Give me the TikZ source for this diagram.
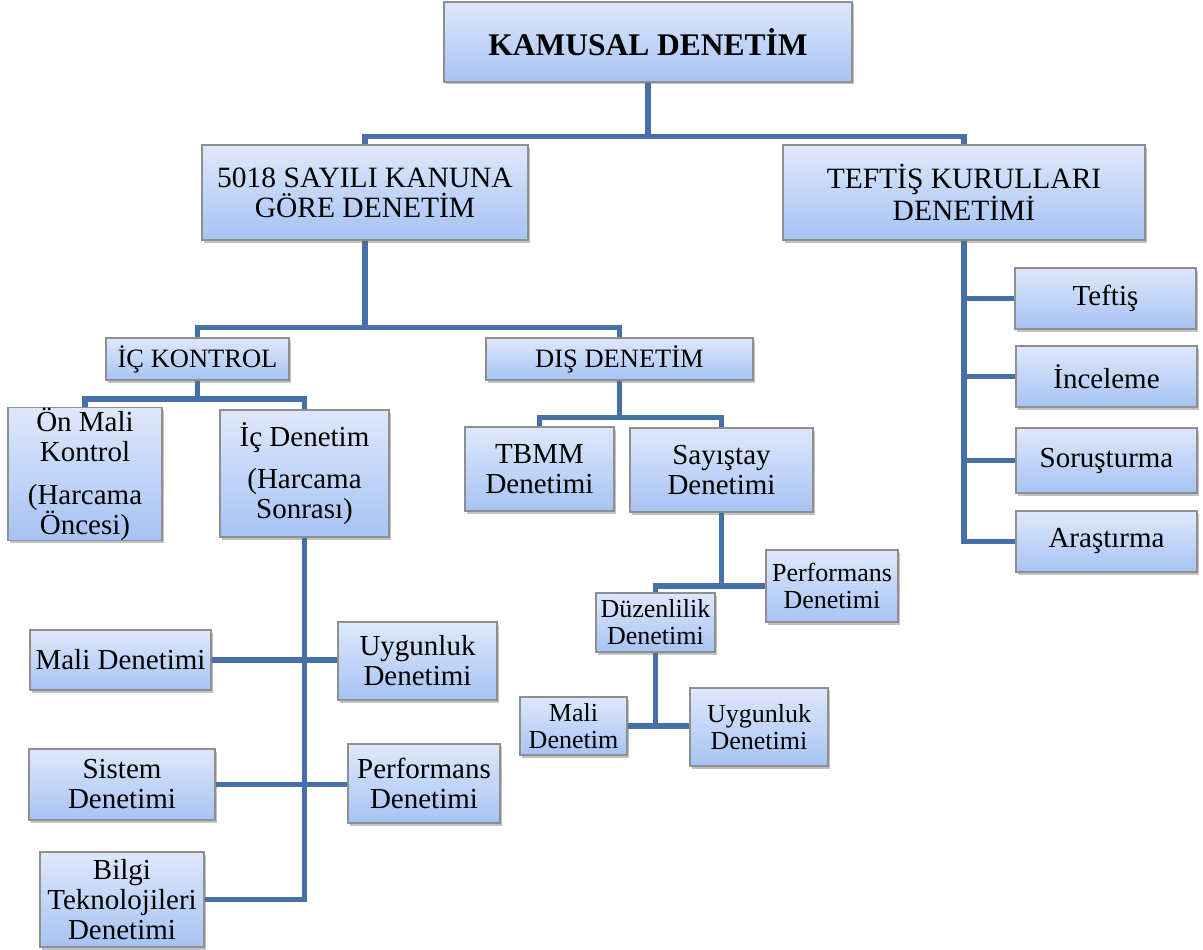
\documentclass[tikz,border=0pt]{standalone}
\usepackage{fontspec}
\setmainfont{Liberation Serif}
\usetikzlibrary{shadows,backgrounds}
\definecolor{boxtop}{HTML}{DEE8FB}
\definecolor{boxbot}{HTML}{A6C3F4}
\definecolor{boxline}{HTML}{8F8F8F}
\definecolor{connc}{HTML}{4671A8}
\newcommand{\fsz}[1]{\fontsize{#1}{#1}\selectfont}
\tikzset{
  box/.style={draw=boxline, line width=1.4pt, top color=boxtop, bottom color=boxbot,
    rectangle, inner sep=0pt, align=center,
    drop shadow={shadow xshift=1.5pt, shadow yshift=-2.5pt, opacity=0.4, fill=black!60}},
  conn/.style={draw=connc, line width=5.5pt},
  ftop/.style={font=\fsz{31.5}\bfseries},
  fmid/.style={font=\fontsize{29.5}{30}\selectfont},
  fsm/.style={font=\fontsize{26.5}{28}\selectfont},
  flf/.style={font=\fontsize{29}{30}\selectfont},
  fsub/.style={font=\fontsize{26}{27}\selectfont},
}
\begin{document}
\begin{tikzpicture}[x=1pt,y=-1pt]
\useasboundingbox (0,0) rectangle (1203,950);
% nodes
\node[box,ftop,minimum width=408,minimum height=80] (kam) at (648,42) {KAMUSAL DENETİM};
\node[box,fmid,minimum width=326,minimum height=95] (k5018) at (365,192.5) {5018 SAYILI KANUNA\\GÖRE DENETİM};
\node[box,fmid,minimum width=362,minimum height=95] (tk) at (964,192.5) {TEFTİŞ KURULLARI\\DENETİMİ};
\node[box,fsm,minimum width=183,minimum height=42] (ick) at (197.5,359) {İÇ KONTROL};
\node[box,fsm,minimum width=267,minimum height=42] (dis) at (619.5,359) {DIŞ DENETİM};
\node[box,flf,minimum width=154,minimum height=128] (onm) at (85,474) {Ön Mali\\Kontrol\\[13pt](Harcama\\Öncesi)};
\node[box,flf,minimum width=169,minimum height=127] (icd) at (304.5,473.5) {İç Denetim\\[12pt](Harcama\\Sonrası)};
\node[box,flf,minimum width=149,minimum height=84] (tbmm) at (539.5,469) {TBMM\\Denetimi};
\node[box,flf,minimum width=183,minimum height=84] (say) at (721.5,470) {Sayıştay\\Denetimi};
\node[box,fsub,minimum width=132,minimum height=72] (perf2) at (832,586) {Performans\\Denetimi};
\node[box,fsub,minimum width=119,minimum height=59] (duz) at (655.5,622.5) {Düzenlilik\\Denetimi};
\node[box,fsub,minimum width=107,minimum height=58] (mden) at (573.5,726) {Mali\\Denetim};
\node[box,fsub,minimum width=138,minimum height=78] (uyg2) at (759,727) {Uygunluk\\Denetimi};
\node[box,flf,minimum width=181,minimum height=60] (mali) at (120.5,660) {Mali Denetimi};
\node[box,flf,minimum width=159,minimum height=78] (uyg) at (417.5,661) {Uygunluk\\Denetimi};
\node[box,flf,minimum width=186,minimum height=71] (sis) at (122,784.5) {Sistem\\Denetimi};
\node[box,flf,minimum width=152,minimum height=79] (perf) at (424,783.5) {Performans\\Denetimi};
\node[box,flf,minimum width=164,minimum height=95] (bilgi) at (122,899.5) {Bilgi\\Teknolojileri\\Denetimi};
\node[box,flf,minimum width=181,minimum height=61] (teft) at (1105.5,298.5) {Teftiş};
\node[box,flf,minimum width=181,minimum height=61] (inc) at (1106.5,376.5) {İnceleme};
\node[box,flf,minimum width=181,minimum height=65] (sor) at (1106.5,460.5) {Soruşturma};
\node[box,flf,minimum width=181,minimum height=61] (aras) at (1106.5,541.5) {Araştırma};
% connectors
\begin{scope}[on background layer]
\draw[conn] (kam.south) -- (kam.south |- 0,137);
\draw[conn] (k5018.north) -- ++(0,-8) -| (tk.north);
\draw[conn] (k5018.south) -- (k5018.south |- 0,328);
\draw[conn] (ick.north) -- ++(0,-10) -| (dis.north);
\draw[conn] (ick.south) -- (ick.south |- 0,402);
\draw[conn] (onm.north) -- ++(0,-8) -| (icd.north);
\draw[conn] (dis.south) -- (dis.south |- 0,418);
\draw[conn] (tbmm.north) -- ++(0,-9) -| (say.north);
\draw[conn] (say.south) -- (say.south |- perf2.west);
\draw[conn] (duz.north) |- (perf2.west);
\draw[conn] (duz.south) -- (duz.south |- mden.east);
\draw[conn] (mden.east) -- (mden.east -| uyg2.west);
\draw[conn] (icd.south) |- (bilgi.east);
\draw[conn] (mali.east) -- (mali.east -| uyg.west);
\draw[conn] (sis.east) -- (sis.east -| perf.west);
\draw[conn] (tk.south) |- (aras.west);
\draw[conn] (tk.south |- teft.west) -- (teft.west);
\draw[conn] (tk.south |- inc.west) -- (inc.west);
\draw[conn] (tk.south |- sor.west) -- (sor.west);
\end{scope}
\end{tikzpicture}
\end{document}
